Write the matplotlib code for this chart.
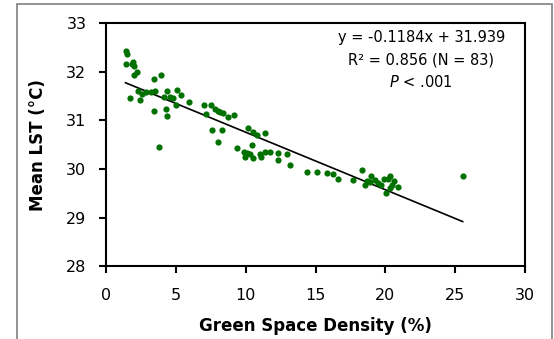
import numpy as np
import matplotlib
matplotlib.use("Agg")
import matplotlib.pyplot as plt
from matplotlib.patches import Rectangle

plt.rcParams['font.family'] = ['DejaVu Sans']

# dane
green_density = [1.43, 1.5, 1.41, 1.96, 2.0, 2.2, 2.03, 3.98, 3.46, 1.72,
                 2.48, 2.6, 2.91, 3.5, 4.39, 5.06, 5.37, 4.18, 4.58, 5.01,
                 5.94, 3.46, 4.27, 4.39, 7.04, 7.49, 7.2, 7.6, 3.79, 7.8,
                 8.16, 8.4, 8.75, 9.18, 8.33, 8.04, 10.14, 10.55, 10.78, 11.38,
                 9.4, 9.88, 10.07, 10.43, 9.95, 10.55, 11.1, 11.38, 11.74, 12.29,
                 12.93, 12.33, 13.17, 14.36, 15.13, 15.84, 16.22, 16.58, 17.65, 18.35,
                 18.97, 19.25, 18.54, 18.9, 19.93, 20.33, 19.68, 20.02, 20.45, 20.87,
                 20.16, 25.53, 1.9, 2.3, 3.2, 4.8, 8.0, 10.3, 11.0, 18.7,
                 19.5, 20.3, 20.6]
mean_lst = [32.42, 32.36, 32.16, 32.2, 32.12, 32.0, 31.93, 31.94, 31.85, 31.45,
            31.42, 31.55, 31.59, 31.61, 31.61, 31.62, 31.53, 31.48, 31.47, 31.31,
            31.37, 31.19, 31.23, 31.09, 31.31, 31.31, 31.13, 30.8, 30.45, 31.24,
            31.17, 31.15, 31.07, 31.11, 30.8, 30.56, 30.85, 30.76, 30.7, 30.73,
            30.42, 30.35, 30.32, 30.49, 30.25, 30.23, 30.25, 30.34, 30.34, 30.33,
            30.3, 30.18, 30.08, 29.94, 29.94, 29.91, 29.89, 29.79, 29.78, 29.98,
            29.86, 29.77, 29.67, 29.73, 29.8, 29.86, 29.67, 29.51, 29.67, 29.63,
            29.8, 29.85, 32.15, 31.6, 31.58, 31.45, 31.2, 30.3, 30.3, 29.75,
            29.7, 29.6, 29.75]

slope = -0.1184
intercept = 31.939

fig = plt.figure(figsize=(5.54, 3.39), dpi=100)
ax = fig.add_axes([0.191, 0.215, 0.757, 0.717])

ax.scatter(green_density, mean_lst, s=20, color='#007000', zorder=3, linewidths=0)

x_line = np.array([min(green_density), max(green_density)])
ax.plot(x_line, slope * x_line + intercept, color='black', linewidth=1.2, zorder=2)

ax.set_xlim(0, 30)
ax.set_ylim(28, 33)
ax.set_xticks(range(0, 31, 5))
ax.set_yticks(range(28, 34))
ax.tick_params(direction='out', length=5, width=1.5, labelsize=11.5)
ax.tick_params(axis='y', pad=9)
ax.tick_params(axis='x', pad=11)
for sp in ax.spines.values():
    sp.set_linewidth(1.5)

ax.set_xlabel("Green Space Density (%)", fontsize=12, fontweight='bold', labelpad=10)
ax.set_ylabel("Mean LST (\u00b0C)", fontsize=12, fontweight='bold', labelpad=14)

ax.text(0.752, 0.97, "y = -0.1184x + 31.939", transform=ax.transAxes,
        ha='center', va='top', fontsize=10.5)
ax.text(0.752, 0.88, "R\u00b2 = 0.856 (N = 83)", transform=ax.transAxes,
        ha='center', va='top', fontsize=10.5)
ax.text(0.752, 0.79, r"$P$ < .001", transform=ax.transAxes,
        ha='center', va='top', fontsize=10.5)

# szara ramka wokół wykresu
fig.patches.append(Rectangle((17 / 554, -0.05), 535 / 554, 1.05 - 4 / 339,
                             transform=fig.transFigure, fill=False,
                             edgecolor='#808080', linewidth=1.2))

fig.savefig("out.png", dpi=100)
